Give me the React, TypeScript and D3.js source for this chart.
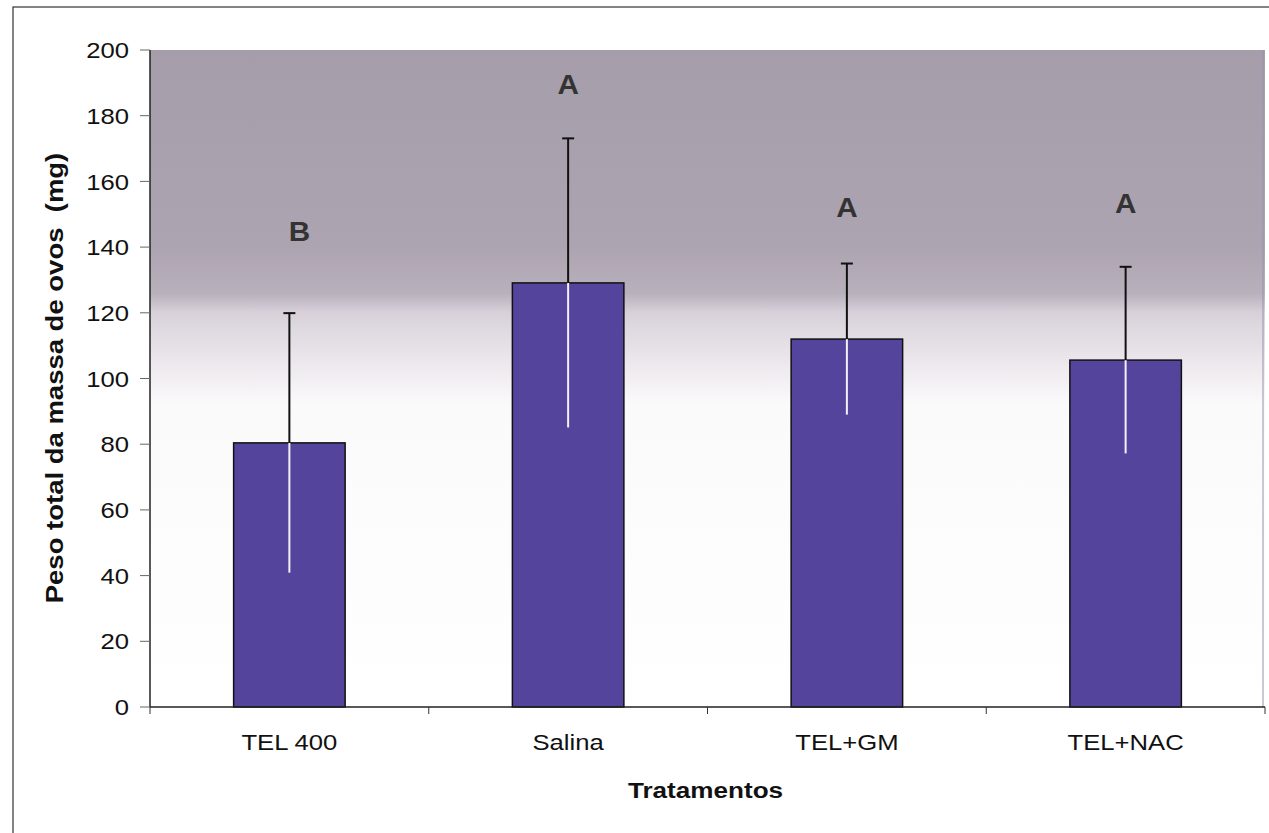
import React from "react";
import * as d3 from "d3";

// Treatments and their mean egg-mass weight (mg) with standard deviation
const categories = ["TEL 400", "Salina", "TEL+GM", "TEL+NAC"];
const means = [80.4, 129.1, 112.0, 105.6];
const sds = [39.5, 44.0, 23.0, 28.4];
// Significance letters and the height (mg) at which each is written
const letters = ["B", "A", "A", "A"];
const letterLevels = [144.8, 189.6, 152.2, 153.3];
const yTicks = [0, 20, 40, 60, 80, 100, 120, 140, 160, 180, 200];

const W = 1269;
const H = 833;
const plot = { left: 150, right: 1265, top: 50, bottom: 707 };
const FONT = "'Liberation Sans', Arial, Helvetica, sans-serif";

export default function App() {
  const x = d3
    .scaleBand<string>()
    .domain(categories)
    .range([plot.left, plot.right])
    .paddingInner(0.6)
    .paddingOuter(0.3);
  const y = d3.scaleLinear().domain([0, 200]).range([plot.bottom, plot.top]);
  const step = x.step();
  const bw = x.bandwidth();
  const boundaries = d3.range(categories.length + 1).map((i) => plot.left + i * step);

  return (
    <svg
      width={W}
      height={H}
      viewBox={`0 0 ${W} ${H}`}
      style={{ position: "absolute", left: 0, top: 0, background: "#fff" }}
    >
      <defs>
        <linearGradient id="plotBg" x1="0" y1="0" x2="0" y2="1">
          <stop offset="0%" stopColor="#a69dab" />
          <stop offset="30%" stopColor="#ada4b1" />
          <stop offset="37%" stopColor="#b8b0bb" />
          <stop offset="40%" stopColor="#d8d1da" />
          <stop offset="48%" stopColor="#ede9ee" />
          <stop offset="54%" stopColor="#fbfafb" />
          <stop offset="100%" stopColor="#ffffff" />
        </linearGradient>
      </defs>

      {/* outer chart frame */}
      <rect x={13} y={7} width={1270} height={840} fill="none" stroke="#333" strokeWidth={1.2} />

      {/* plot area */}
      <rect
        x={plot.left}
        y={plot.top}
        width={plot.right - plot.left}
        height={plot.bottom - plot.top}
        fill="url(#plotBg)"
      />
      <line x1={plot.right - 2} x2={plot.right - 2} y1={plot.top} y2={plot.bottom} stroke="#9a90a8" strokeWidth={1} />

      {/* y axis */}
      <line x1={plot.left} x2={plot.left} y1={plot.top} y2={plot.bottom} stroke="#222" strokeWidth={1.5} />
      {yTicks.map((t) => (
        <g key={t}>
          <line x1={plot.left - 10} x2={plot.left} y1={y(t)} y2={y(t)} stroke="#666" strokeWidth={1} />
          <text
            transform={`translate(129,${y(t)}) scale(1.14,1)`}
            textAnchor="end"
            dy="0.36em"
            fontFamily={FONT}
            fontSize={22.5}
            fill="#111"
          >
            {t}
          </text>
        </g>
      ))}

      {/* bars */}
      {categories.map((c, i) => (
        <rect
          key={c}
          x={x(c)!}
          y={y(means[i])}
          width={bw}
          height={y(0) - y(means[i])}
          fill="#54449c"
          stroke="#111"
          strokeWidth={1.5}
        />
      ))}

      {/* error bars: light inside the bar, dark above it */}
      {categories.map((c, i) => {
        const cx = x(c)! + bw / 2;
        return (
          <g key={c}>
            <line x1={cx} x2={cx} y1={y(means[i] - sds[i])} y2={y(means[i])} stroke="#f4f2f8" strokeWidth={2} />
            <line x1={cx} x2={cx} y1={y(means[i])} y2={y(means[i] + sds[i])} stroke="#111" strokeWidth={2} />
            <line
              x1={cx - 6}
              x2={cx + 6}
              y1={y(means[i] + sds[i])}
              y2={y(means[i] + sds[i])}
              stroke="#111"
              strokeWidth={2}
            />
          </g>
        );
      })}

      {/* significance letters */}
      {categories.map((c, i) => (
        <text
          key={c}
          transform={`translate(${x(c)! + bw / 2 + (i === 0 ? 10 : 0)},${y(letterLevels[i])}) scale(1.1,1)`}
          textAnchor="middle"
          dy="0.36em"
          fontFamily={FONT}
          fontWeight="bold"
          fontSize={27}
          fill="#333"
        >
          {letters[i]}
        </text>
      ))}

      {/* x axis */}
      <line x1={plot.left} x2={plot.right} y1={plot.bottom} y2={plot.bottom} stroke="#222" strokeWidth={1.5} />
      {boundaries.map((bx, i) => (
        <line key={i} x1={bx} x2={bx} y1={plot.bottom} y2={plot.bottom + 7} stroke="#333" strokeWidth={1} />
      ))}
      {categories.map((c) => (
        <text
          key={c}
          transform={`translate(${x(c)! + bw / 2},750) scale(1.14,1)`}
          textAnchor="middle"
          fontFamily={FONT}
          fontSize={22.5}
          fill="#111"
        >
          {c}
        </text>
      ))}

      {/* axis titles */}
      <text
        transform={`translate(${(plot.left + plot.right) / 2 - 2},798) scale(1.16,1)`}
        textAnchor="middle"
        fontFamily={FONT}
        fontWeight="bold"
        fontSize={22.5}
        fill="#111"
      >
        Tratamentos
      </text>
      <text
        transform={`translate(63,378) rotate(-90) scale(1.17,1)`}
        textAnchor="middle"
        fontFamily={FONT}
        fontWeight="bold"
        fontSize={23.5}
        fill="#111"
        style={{ whiteSpace: "pre" }}
      >
        {"Peso total da massa de ovos  (mg)"}
      </text>
    </svg>
  );
}
